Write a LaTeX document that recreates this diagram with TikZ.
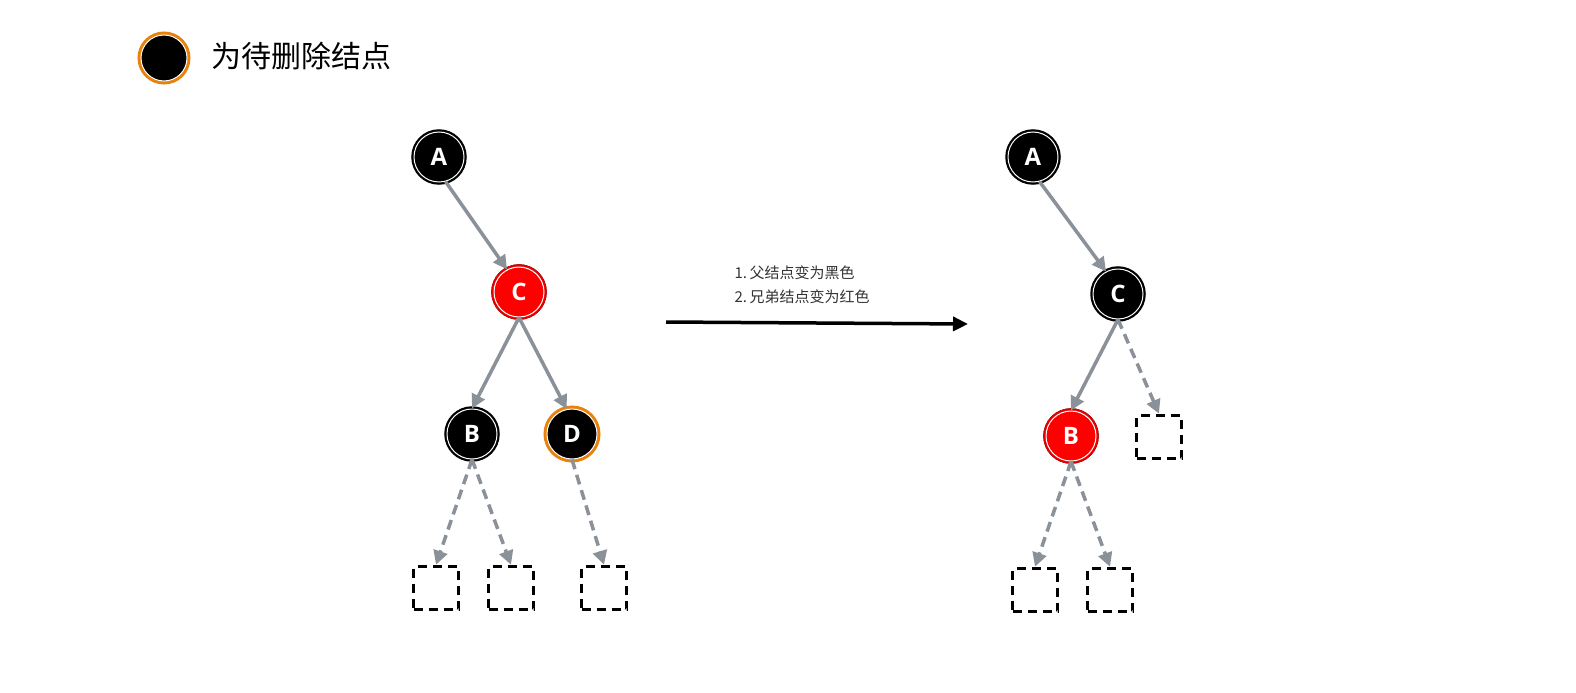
\documentclass[tikz,border=0pt]{standalone}
\usepackage{fontspec}
\setsansfont{Open Sans}
\newfontfamily\cjk{Noto Sans CJK SC}
\usetikzlibrary{arrows.meta}
\definecolor{edgegray}{HTML}{8A9199}
\definecolor{delorange}{HTML}{E8820C}
\definecolor{rbred}{HTML}{FF0000}
\begin{document}
\begin{tikzpicture}[x=1pt,y=-1pt,
  bnode/.style={circle,minimum size=50pt,inner sep=0pt,fill=black,draw=white,line width=1pt,
    preaction={draw=black,line width=5.5pt},text=white,font=\sffamily\bfseries\fontsize{24}{24}\selectfont},
  rnode/.style={bnode,fill=rbred,preaction={draw=rbred!90!black,line width=5.5pt}},
  dnode/.style={bnode,preaction={draw=delorange,line width=7pt}},
  nilbox/.style={draw=black,line width=3.5pt,dash pattern=on 9pt off 6pt,minimum width=45pt,minimum height=43pt,inner sep=0pt},
  tedge/.style={draw=edgegray,line width=3.5pt,-{Triangle[length=14pt,width=14pt]}},
  dedge/.style={tedge,dash pattern=on 10pt off 6pt},
]
\useasboundingbox (0,0) rectangle (1576,693);
% legend
\node[dnode,minimum size=46pt] (leg) at (164,58) {};
\node[anchor=west,font=\cjk\fontsize{30}{30}\selectfont] (legt) at (208,56) {为待删除结点};
% left tree
\node[bnode] (LA) at (439,157) {A};
\node[rnode] (LC) at (519,292) {C};
\node[bnode] (LB) at (472,434) {B};
\node[dnode] (LD) at (572,434) {D};
\node[nilbox] (L1) at (436,588) {};
\node[nilbox] (L2) at (511,588) {};
\node[nilbox] (L3) at (604,588) {};
\draw[tedge] (LA.-75) -- (LC.118);
\draw[tedge] (LC.south) -- (LB.north);
\draw[tedge] (LC.south) -- (LD.102);
\draw[dedge] (LB.south) -- (L1.north);
\draw[dedge] (LB.south) -- (L2.north);
\draw[dedge] (LD.south) -- (L3.north);
% transition arrow
\coordinate (ts) at (666,322);
\coordinate (te) at (968,324);
\draw[line width=3.5pt,-{Triangle[length=15pt,width=14pt]}] (ts) -- (te);
\node[anchor=west,align=left,text=black!80,font=\cjk\fontsize{15}{24}\selectfont] (lab) at (731,285) {1.\,父结点变为黑色\\2.\,兄弟结点变为红色};
% right tree
\node[bnode] (RA) at (1033,157) {A};
\node[bnode] (RC) at (1118,294) {C};
\node[rnode] (RB) at (1071,436) {B};
\node[nilbox] (R3) at (1159,437) {};
\node[nilbox] (R1) at (1035,590) {};
\node[nilbox] (R2) at (1110,590) {};
\draw[tedge] (RA.-75) -- (RC.118);
\draw[tedge] (RC.south) -- (RB.north);
\draw[dedge] (RC.south) -- (R3.north);
\draw[dedge] (RB.south) -- (R1.north);
\draw[dedge] (RB.south) -- (R2.north);
\end{tikzpicture}
\end{document}
